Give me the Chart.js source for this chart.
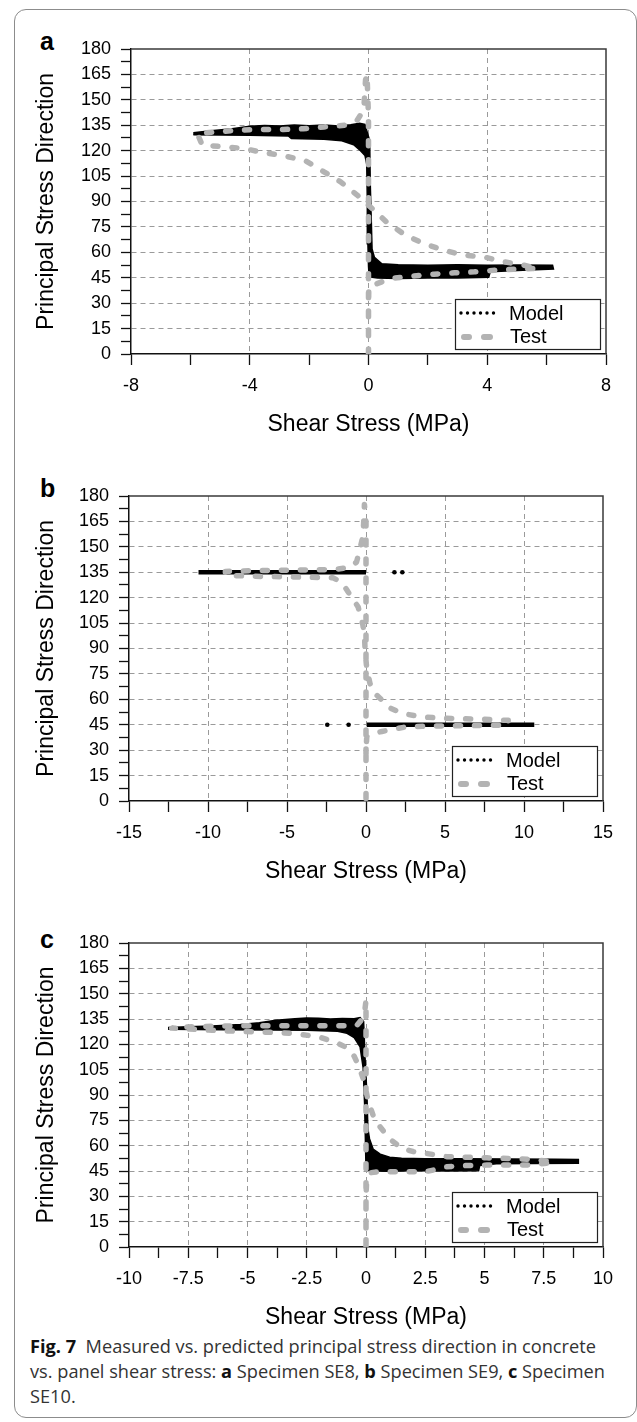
<!DOCTYPE html>
<html>
<head>
<meta charset="utf-8">
<script src="https://cdn.jsdelivr.net/npm/chart.js@4.4.1/dist/chart.umd.min.js"></script>
<style>
  html, body { margin: 0; padding: 0; background: #fff; }
  body { width: 637px; height: 1422px; position: relative; overflow: hidden; }
  .frame { position: absolute; left: 14px; top: 9px; width: 621px; height: 1407px;
           border: 1px solid #8c8c8c; border-radius: 12px; }
  canvas { position: absolute; left: 0; }
  .tag { position: absolute; left: 40px; font: bold 25px/25px "Liberation Sans", Arial, sans-serif; color: #000; }
  .caption { position: absolute; left: 30px; top: 1334px; font: 18.2px/25px "Open Sans", sans-serif;
             color: #333; white-space: nowrap; }
  .caption b { color: #111; }
</style>
</head>
<body>
<div class="frame"></div>
<div class="tag" style="top:29px">a</div>
<div class="tag" style="top:476px">b</div>
<div class="tag" style="top:927px">c</div>
<canvas id="chartA" width="637" height="440" style="top:0px"></canvas>
<canvas id="chartB" width="637" height="442" style="top:445px"></canvas>
<canvas id="chartC" width="637" height="440" style="top:893px"></canvas>
<div class="caption"><b>Fig. 7</b>&nbsp; Measured vs. predicted principal stress direction in concrete<br>vs. panel shear stress: <b>a</b> Specimen SE8, <b>b</b> Specimen SE9, <b>c</b> Specimen<br>SE10.</div>

<script>
// ---- data ----
const seriesNames = ['Model', 'Test'];
const yTickLabels = [0, 15, 30, 45, 60, 75, 90, 105, 120, 135, 150, 165, 180];
const aXTickLabels = [-8, -4, 0, 4, 8];
const bXTickLabels = [-15, -10, -5, 0, 5, 10, 15];
const cXTickLabels = [-10, -7.5, -5, -2.5, 0, 2.5, 5, 7.5, 10];

// (a) SE8 - model band outline
const aModelX = [-5.9, -5.3, -4.6, -4.0, -3.5, -3.0, -2.5, -2.0, -1.5, -1.0, -0.6, -0.3, -0.12,
  0.04, 0.06, 0.1, 0.12, 0.2, 0.45, 1.0, 2.0, 3.0, 4.0, 5.0, 6.2, 6.23,
  5.2, 4.1, 4.05, 3.0, 2.0, 1.0, 0.3, 0.02,
  0.0, -0.02, -0.04, -0.06, -0.12, -0.3, -0.5, -0.9, -1.5, -2.6, -2.7, -4.0, -5.0, -5.9];
const aModelY = [130.6, 131.8, 133.0, 134.4, 134.8, 134.6, 135.1, 134.7, 135.2, 134.6, 135.3, 136.2, 135.5,
  126, 100, 75, 62, 57, 53.2, 52.6, 52.4, 52.6, 52.4, 52.5, 52.4, 50.2,
  49.4, 48.5, 45.3, 44.8, 44.9, 44.6, 44.8, 45.5,
  52, 65, 90, 112, 117.2, 120.5, 123.5, 125.8, 126.8, 127.2, 128.7, 129.1, 129.3, 129.4];
// (a) SE8 - test path
const aTestX = [0, 0, 0.01, 0.74, 1.47, 2.2, 2.9, 3.57, 4.3, 5.0, 5.7, 5.23, 4.56, 3.88, 3.2, 2.54, 1.86,
  1.25, 0.63, 0.12, -0.38, -0.94, -1.5, -2.12, -2.8, -3.52, -4.2, -4.88, -5.6, -5.77, -5.0, -4.3,
  -3.6, -2.87, -2.2, -1.5, -0.8, -0.38, -0.16, -0.1, -0.05, 0, 0, 0, 0];
const aTestY = [0, 25, 39.6, 44.6, 45.9, 47.1, 47.9, 48.5, 49.5, 50.1, 50.5, 52.4, 54.4, 57.3, 58.3, 61.3, 65.2,
  70.1, 77.5, 85.9, 93.8, 101.6, 107.5, 114, 116.8, 118.8, 121.3, 122.3, 123.3, 130.2, 131.2, 132.2,
  132.5, 132.5, 132.9, 134, 135, 138, 144, 161.7, 165, 140, 100, 60, 0];

// (b) SE9 - model
const bModelUpperX = [-10.6, 0];
const bModelUpperY = [135, 135];
const bModelLowerX = [0.05, 10.65];
const bModelLowerY = [45, 45];
const bModelDotsX = [1.8, 2.3, -2.45, -1.1];
const bModelDotsY = [135, 135, 45, 45];
// (b) SE9 - test path
const bTestX = [0, 0, 0, 0.05, 0.5, 1.0, 1.8, 2.6, 4.0, 6.3, 9.0, 9.0, 7.5, 5.1, 3.5, 2.3, 1.5, 0.9, 0.5, 0.25,
  0.05, -0.05, -0.1, -0.2, -0.5, -0.9, -1.2, -1.6, -2.1, -3.5, -5, -7, -8.9, -8.9, -7, -5, -3.5, -2.0,
  -1.0, -0.6, -0.4, -0.2, -0.15, -0.1, 0, 0, 0, 0, 0, 0];
const bTestY = [1.5, 15, 30, 38, 40, 41, 42.5, 43.8, 44.2, 44.4, 44.8, 47.6, 48.2, 48.8, 49.6, 51.7, 55, 60.5, 64, 69.4,
  78, 88, 98, 104, 114.6, 120, 124.4, 129.5, 131.7, 132, 132.3, 132.6, 133.2, 135.5, 136, 136.2, 136.4, 136.6,
  138, 141, 148, 156, 163.7, 175, 165, 140, 110, 80, 50, 20];

// (c) SE10 - model band outline
const cModelX = [-8.35, -7.5, -6.5, -5.3, -4.5, -3.8, -3.0, -2.5, -2.0, -1.5, -1.0, -0.5, -0.25, -0.1,
  -0.04, 0.04, 0.08, 0.15, 0.3, 0.6, 1.0, 1.5, 2.5, 4.0, 6.0, 8.0, 8.96, 8.96, 7.0, 5.5, 4.8, 4.75,
  3.5, 2.0, 1.0, 0.2, 0.0, -0.02, -0.06, -0.12, -0.25, -0.5, -0.8, -1.2, -2.5, -4.0, -6.0, -8.35];
const cModelY = [129.9, 130.4, 130.9, 131.7, 132.8, 134.2, 135.1, 135.6, 135.4, 135.0, 135.3, 135.1, 135.9, 133.5,
  112, 90, 70, 64, 58, 55, 53.2, 52.5, 52.3, 52.2, 52.1, 52.0, 51.8, 49.6, 49.5, 49.3, 48.3, 45.2,
  45.0, 45.1, 44.9, 45.0, 45.8, 60, 85, 106, 118.5, 124, 126.5, 127.8, 128.3, 128.5, 128.7, 129.0];
// (c) SE10 - test path
const cTestX = [0, 0, 0, 0.03, 0.2, 0.6, 1.5, 2.5, 3.0, 3.4, 4.2, 5.1, 6.0, 6.8, 7.9, 7.6, 6.8, 6.0, 5.1, 4.2,
  3.4, 2.5, 2.0, 1.5, 1.0, 0.6, 0.3, 0.1, -0.1, -0.3, -0.5, -0.8, -1.2, -2.0, -3.1, -4.2, -5.2, -6.5, -8.2,
  -7.3, -6, -5, -4, -3, -2, -1, -0.4, -0.1, -0.05, 0, 0, 0, 0, 0, 0, 0, 0];
const cTestY = [0, 15, 30, 40, 44, 44.6, 44.6, 44.6, 46, 47.5, 48.2, 48.5, 48.5, 48.5, 50, 51, 52, 52.4, 52.8, 53.2,
  53.5, 55.5, 56.5, 58.5, 64, 71, 78, 86, 99, 107, 113, 118, 120.7, 124.5, 126.5, 127.2, 127.6, 128.3, 129.6,
  130.5, 130.8, 131, 131, 131, 131, 131, 131, 136, 140, 146, 120, 100, 80, 60, 40, 20, 0];

// ---- helpers ----
Chart.defaults.font.family = '"Liberation Sans", Arial, sans-serif';
Chart.defaults.color = '#000';

const MODEL_COLOR = '#000';
const TEST_COLOR = '#b3b3b3';

function pts(xs, ys) {
  return xs.map((x, i) => ({ x: x, y: ys[i] }));
}
function isLabel(list, v) {
  return list.some(t => Math.abs(t - v) < 1e-6);
}

function testSet(xs, ys) {
  return {
    label: seriesNames[1], data: pts(xs, ys), showLine: true, pointRadius: 0,
    borderColor: TEST_COLOR, borderWidth: 5.5, borderDash: [5, 14], borderCapStyle: 'round',
    borderJoinStyle: 'round', fill: false
  };
}
function bandSet(xs, ys) {
  return {
    label: seriesNames[0], data: pts(xs, ys), showLine: true, pointRadius: 0,
    borderColor: MODEL_COLOR, backgroundColor: MODEL_COLOR, borderWidth: 1.5, fill: 'shape'
  };
}
function barSet(xs, ys) {
  return {
    label: seriesNames[0], data: pts(xs, ys), showLine: true, pointRadius: 0,
    borderColor: MODEL_COLOR, borderWidth: 4.5, fill: false
  };
}
function dotSet(xs, ys) {
  return {
    label: seriesNames[0], data: pts(xs, ys), showLine: false, pointRadius: 2.3,
    pointBackgroundColor: MODEL_COLOR, pointBorderWidth: 0
  };
}

// frame on top/right + key box in lower right
const frameAndKey = {
  id: 'frameAndKey',
  afterDatasetsDraw(chart) {
    const { ctx, chartArea: a } = chart;
    ctx.save();
    ctx.strokeStyle = '#3a3a3a';
    ctx.lineWidth = 1.5;
    ctx.beginPath();
    ctx.moveTo(a.left, a.top);
    ctx.lineTo(a.right, a.top);
    ctx.lineTo(a.right, a.bottom);
    ctx.stroke();

    const w = 145, h = 50;
    const x0 = a.right - 151, y0 = a.bottom - 55;
    ctx.fillStyle = '#fff';
    ctx.fillRect(x0, y0, w, h);
    ctx.strokeStyle = '#222';
    ctx.lineWidth = 1.2;
    ctx.strokeRect(x0 + 0.5, y0 + 0.5, w, h);

    ctx.fillStyle = MODEL_COLOR;
    for (let i = 0; i < 6; i++) {
      ctx.beginPath();
      ctx.arc(x0 + 6 + i * 6.5, y0 + 14, 1.7, 0, Math.PI * 2);
      ctx.fill();
    }
    ctx.strokeStyle = TEST_COLOR;
    ctx.lineWidth = 6;
    ctx.lineCap = 'round';
    ctx.beginPath();
    ctx.moveTo(x0 + 9, y0 + 38); ctx.lineTo(x0 + 14, y0 + 38);
    ctx.moveTo(x0 + 29, y0 + 38); ctx.lineTo(x0 + 35, y0 + 38);
    ctx.stroke();

    ctx.fillStyle = '#000';
    ctx.font = '20px "Liberation Sans", Arial, sans-serif';
    ctx.textBaseline = 'middle';
    ctx.fillText(seriesNames[0], x0 + 54, y0 + 15);
    ctx.fillText(seriesNames[1], x0 + 55, y0 + 38);
    ctx.restore();
  }
};

function makePanel(id, box, xMin, xMax, xStep, xLabels, datasets) {
  new Chart(document.getElementById(id), {
    type: 'scatter',
    data: { datasets: datasets },
    plugins: [frameAndKey],
    options: {
      responsive: false,
      animation: false,
      devicePixelRatio: 1,
      layout: { padding: { top: box.top, right: 637 - box.right, left: 0, bottom: 0 } },
      plugins: { legend: { display: false }, tooltip: { enabled: false } },
      scales: {
        x: {
          type: 'linear', min: xMin, max: xMax,
          afterFit: s => { s.height = 86; },
          ticks: {
            stepSize: xStep, autoSkip: false, maxRotation: 0, padding: 10,
            font: { size: 18 }, color: '#000',
            callback: v => isLabel(xLabels, v) ? String(v) : ''
          },
          grid: {
            color: c => (c.tick && isLabel(xLabels, c.tick.value) && c.tick.value > xMin && c.tick.value < xMax)
              ? '#9a9a9a' : 'rgba(0,0,0,0)',
            lineWidth: 1, tickLength: 11, tickColor: '#111', tickWidth: 1.3
          },
          border: { color: '#111', width: 1.5, dash: [5, 4] },
          title: {
            display: true, text: 'Shear Stress (MPa)', color: '#000',
            font: { size: 23 }, padding: { top: 0, bottom: 2 }
          }
        },
        y: {
          type: 'linear', min: 0, max: 180,
          afterFit: s => { s.width = box.left; },
          ticks: {
            stepSize: 7.5, autoSkip: false, padding: 10,
            font: { size: 18 }, color: '#000',
            callback: v => isLabel(yTickLabels, v) ? String(v) : ''
          },
          grid: {
            color: c => (c.tick && isLabel(yTickLabels, c.tick.value) && c.tick.value > 0 && c.tick.value < 180)
              ? '#9a9a9a' : 'rgba(0,0,0,0)',
            lineWidth: 1, tickLength: 10, tickColor: '#111', tickWidth: 1.3
          },
          border: { color: '#111', width: 1.5, dash: [5, 4] },
          title: {
            display: true, text: 'Principal Stress Direction', color: '#000',
            font: { size: 23 }, padding: { top: 33, bottom: 0 }
          }
        }
      }
    }
  });
}

makePanel('chartA', { left: 131, right: 606, top: 49 }, -8, 8, 2, aXTickLabels, [
  testSet(aTestX, aTestY),
  bandSet(aModelX, aModelY)
]);

makePanel('chartB', { left: 129, right: 603, top: 51 }, -15, 15, 2.5, bXTickLabels, [
  testSet(bTestX, bTestY),
  barSet(bModelUpperX, bModelUpperY),
  barSet(bModelLowerX, bModelLowerY),
  dotSet(bModelDotsX, bModelDotsY)
]);

makePanel('chartC', { left: 129, right: 603, top: 50 }, -10, 10, 1.25, cXTickLabels, [
  testSet(cTestX, cTestY),
  bandSet(cModelX, cModelY)
]);
</script>
</body>
</html>
